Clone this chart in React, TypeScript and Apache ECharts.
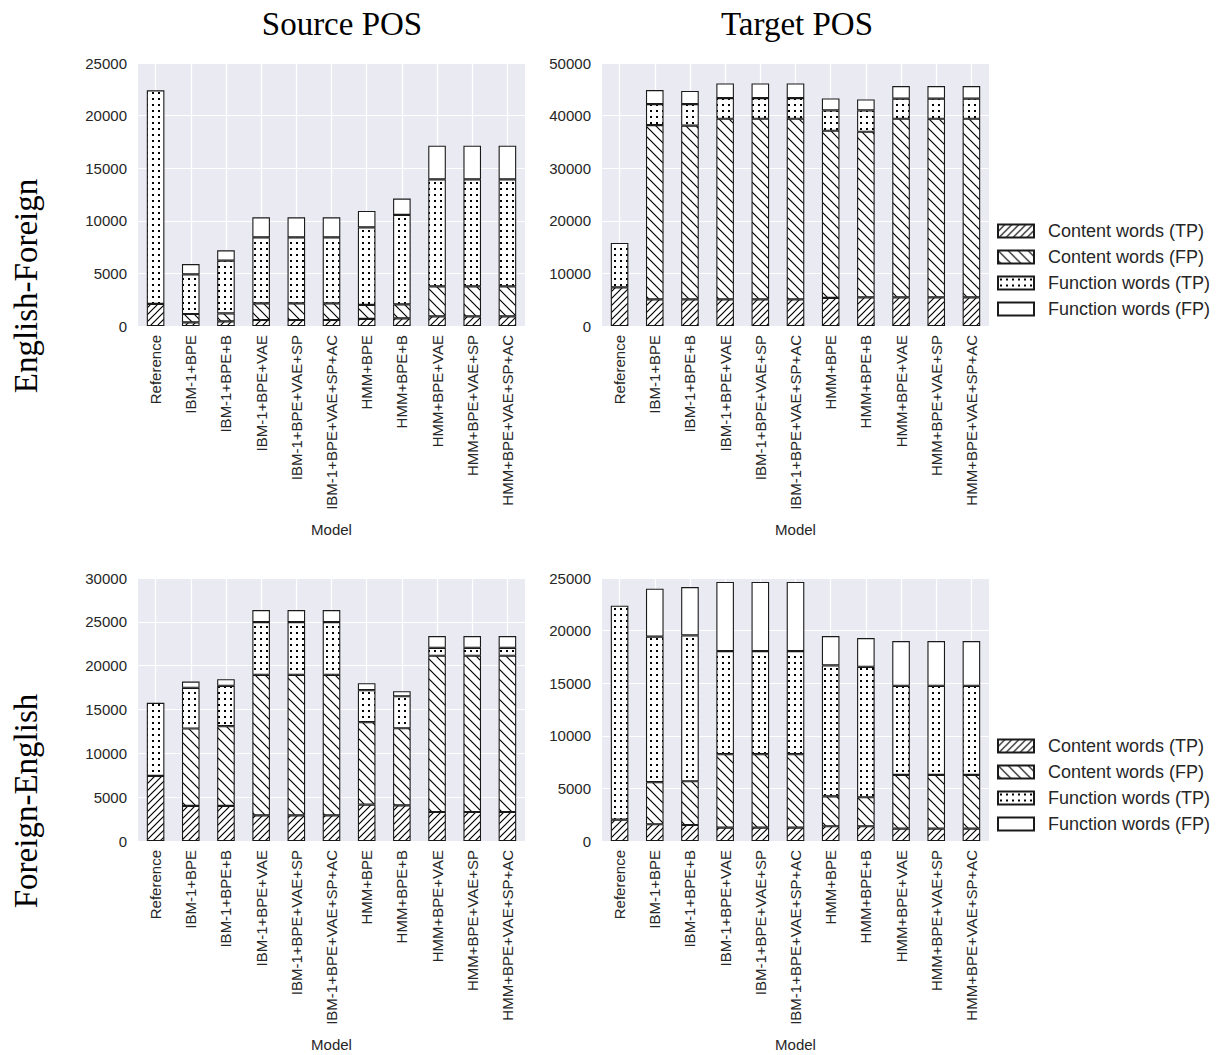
import React, { useEffect, useRef } from "react";
import * as echarts from "echarts";

const categories = [
  "Reference",
  "IBM-1+BPE",
  "IBM-1+BPE+B",
  "IBM-1+BPE+VAE",
  "IBM-1+BPE+VAE+SP",
  "IBM-1+BPE+VAE+SP+AC",
  "HMM+BPE",
  "HMM+BPE+B",
  "HMM+BPE+VAE",
  "HMM+BPE+VAE+SP",
  "HMM+BPE+VAE+SP+AC",
];

const seriesNames = [
  "Content words (TP)",
  "Content words (FP)",
  "Function words (TP)",
  "Function words (FP)",
];

// English-Foreign, Source POS
const efSrcContentTP = [2100, 350, 440, 570, 570, 570, 670, 730, 920, 920, 920];
const efSrcContentFP = [0, 790, 760, 1585, 1585, 1585, 1330, 1330, 2850, 2850, 2850];
const efSrcFunctionTP = [20300, 3770, 5010, 6275, 6275, 6275, 7380, 8500, 10170, 10170, 10170];
const efSrcFunctionFP = [0, 980, 980, 1900, 1900, 1900, 1550, 1550, 3200, 3200, 3200];

// English-Foreign, Target POS
const efTgtContentTP = [7360, 5080, 5080, 5080, 5080, 5080, 5330, 5460, 5460, 5460, 5460];
const efTgtContentFP = [0, 33120, 33000, 34320, 34320, 34320, 31790, 31470, 33940, 33940, 33940];
const efTgtFunctionTP = [8440, 4000, 4120, 3930, 3930, 3930, 3870, 4060, 3810, 3810, 3810];
const efTgtFunctionFP = [0, 2660, 2480, 2790, 2790, 2790, 2280, 2090, 2410, 2410, 2410];

// Foreign-English, Source POS
const feSrcContentTP = [7420, 4000, 4000, 2930, 2930, 2930, 4150, 4070, 3310, 3310, 3310];
const feSrcContentFP = [0, 8830, 9100, 16030, 16030, 16030, 9400, 8790, 17820, 17820, 17820];
const feSrcFunctionTP = [8340, 4640, 4600, 6010, 6010, 6010, 3650, 3650, 910, 910, 910];
const feSrcFunctionFP = [0, 720, 760, 1370, 1370, 1370, 800, 570, 1330, 1330, 1330];

// Foreign-English, Target POS
const feTgtContentTP = [2030, 1590, 1520, 1270, 1270, 1270, 1400, 1400, 1170, 1170, 1170];
const feTgtContentFP = [0, 4000, 4160, 6980, 6980, 6980, 2850, 2760, 5110, 5110, 5110];
const feTgtFunctionTP = [20340, 13830, 13860, 9800, 9800, 9800, 12440, 12400, 8470, 8470, 8470];
const feTgtFunctionFP = [0, 4570, 4600, 6570, 6570, 6570, 2790, 2730, 4250, 4250, 4250];

const panelData = [
  [efSrcContentTP, efSrcContentFP, efSrcFunctionTP, efSrcFunctionFP],
  [efTgtContentTP, efTgtContentFP, efTgtFunctionTP, efTgtFunctionFP],
  [feSrcContentTP, feSrcContentFP, feSrcFunctionTP, feSrcFunctionFP],
  [feTgtContentTP, feTgtContentFP, feTgtFunctionTP, feTgtFunctionFP],
];

const yMax = [25000, 50000, 30000, 25000];
const yStep = [5000, 10000, 5000, 5000];

const gridBoxes = [
  { left: 138, top: 63 },
  { left: 602, top: 63 },
  { left: 138, top: 578 },
  { left: 602, top: 578 },
];

function makePattern(kind: string) {
  const p = kind === "fwd" ? 7 : kind === "back" ? 10 : kind === "dots" ? 6 : 8;
  const c = document.createElement("canvas");
  c.width = p;
  c.height = p;
  const ctx = c.getContext("2d")!;
  ctx.fillStyle = "#ffffff";
  ctx.fillRect(0, 0, p, p);
  ctx.strokeStyle = "#000000";
  ctx.fillStyle = "#000000";
  ctx.lineWidth = 1.2;
  if (kind === "fwd") {
    ctx.beginPath();
    ctx.moveTo(-1, p + 1);
    ctx.lineTo(p + 1, -1);
    ctx.moveTo(-1, 1);
    ctx.lineTo(1, -1);
    ctx.moveTo(p - 1, p + 1);
    ctx.lineTo(p + 1, p - 1);
    ctx.stroke();
  } else if (kind === "back") {
    ctx.beginPath();
    ctx.moveTo(-1, -1);
    ctx.lineTo(p + 1, p + 1);
    ctx.moveTo(-1, p - 1);
    ctx.lineTo(1, p + 1);
    ctx.moveTo(p - 1, -1);
    ctx.lineTo(p + 1, 1);
    ctx.stroke();
  } else if (kind === "dots") {
    ctx.fillRect(2, 2, 2, 2);
  }
  if (kind === "plain") return "#ffffff";
  return { image: c.toDataURL(), imageWidth: p, imageHeight: p, repeat: "repeat" };
}

export default function App() {
  const ref = useRef<HTMLDivElement>(null);
  useEffect(() => {
    if (!ref.current) return;
    const chart = echarts.init(ref.current, null, { renderer: "svg" });
    const fills = [makePattern("fwd"), makePattern("back"), makePattern("dots"), makePattern("plain")];
    const textColor = "#262626";

    const grids = gridBoxes.map((g) => ({
      left: g.left,
      top: g.top,
      width: 387,
      height: 263,
      show: true,
      backgroundColor: "#EAEAF2",
      borderWidth: 0,
      containLabel: false,
    }));

    const xAxes = gridBoxes.map((_, i) => ({
      type: "category",
      gridIndex: i,
      data: categories,
      name: "Model",
      nameLocation: "middle",
      nameGap: 196,
      nameTextStyle: { fontSize: 15, color: textColor, fontFamily: "Liberation Sans" },
      axisLine: { show: false },
      axisTick: { show: false, alignWithLabel: true },
      axisLabel: {
        rotate: 90,
        fontSize: 15,
        color: textColor,
        margin: 9,
        interval: 0,
        fontFamily: "Liberation Sans",
      },
      splitLine: { show: true, alignWithLabel: true, lineStyle: { color: "#ffffff", width: 1.2 } },
    }));

    const yAxes = gridBoxes.map((_, i) => ({
      type: "value",
      gridIndex: i,
      min: 0,
      max: yMax[i],
      interval: yStep[i],
      axisLine: { show: false },
      axisTick: { show: false },
      axisLabel: {
        fontSize: 15,
        color: textColor,
        margin: 11,
        fontFamily: "Liberation Sans",
        formatter: (v: number) => String(v),
      },
      splitLine: { show: true, lineStyle: { color: "#ffffff", width: 1.2 } },
    }));

    const series: any[] = [];
    panelData.forEach((panel, pi) => {
      panel.forEach((vals, si) => {
        series.push({
          type: "bar",
          name: seriesNames[si],
          xAxisIndex: pi,
          yAxisIndex: pi,
          stack: "panel" + pi,
          barWidth: "50%",
          data: vals.map((v) => (v === 0 ? "-" : v)),
          itemStyle: { color: fills[si], borderColor: "#1a1a1a", borderWidth: 1.1 },
          emphasis: { disabled: true },
        });
      });
    });

    const legendBase = {
      orient: "vertical",
      left: 997,
      padding: 0,
      itemWidth: 36,
      itemHeight: 13,
      itemGap: 8,
      selectedMode: false,
      icon: "rect",
      data: seriesNames,
      textStyle: {
        fontSize: 18,
        lineHeight: 18,
        color: textColor,
        fontFamily: "Liberation Sans",
        padding: [0, 0, 0, 9],
      },
    };

    const serif = "Liberation Serif";
    const option: any = {
      animation: false,
      textStyle: { fontFamily: "Liberation Sans" },
      grid: grids,
      xAxis: xAxes,
      yAxis: yAxes,
      series,
      legend: [
        { ...legendBase, top: 222 },
        { ...legendBase, top: 737 },
      ],
      graphic: [
        {
          type: "text",
          x: 342,
          y: 24,
          style: { text: "Source POS", font: `33px "${serif}"`, fill: "#000", textAlign: "center", textVerticalAlign: "middle" },
        },
        {
          type: "text",
          x: 797,
          y: 24,
          style: { text: "Target POS", font: `33px "${serif}"`, fill: "#000", textAlign: "center", textVerticalAlign: "middle" },
        },
        {
          type: "text",
          x: 26,
          y: 286,
          rotation: Math.PI / 2,
          style: { text: "English-Foreign", font: `33px "${serif}"`, fill: "#000", textAlign: "center", textVerticalAlign: "middle" },
        },
        {
          type: "text",
          x: 26,
          y: 801,
          rotation: Math.PI / 2,
          style: { text: "Foreign-English", font: `33px "${serif}"`, fill: "#000", textAlign: "center", textVerticalAlign: "middle" },
        },
      ],
    };
    chart.setOption(option);
    return () => chart.dispose();
  }, []);
  return (
    <div
      ref={ref}
      style={{ position: "fixed", left: 0, top: 0, width: 1220, height: 1055, background: "#ffffff" }}
    />
  );
}
